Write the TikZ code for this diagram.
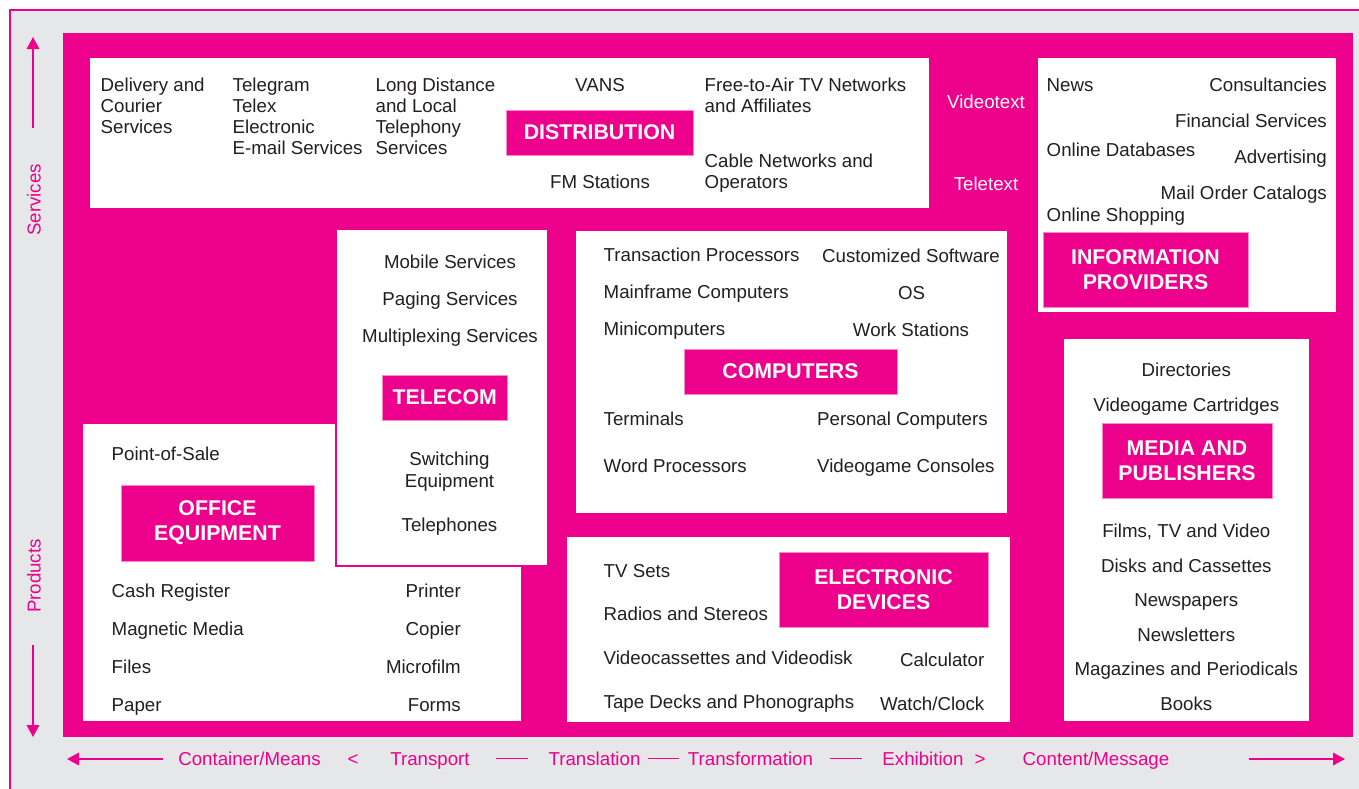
\documentclass[tikz,border=0pt]{standalone}
\usepackage{fontspec}
\setmainfont{Liberation Sans}
\usetikzlibrary{arrows.meta}
\definecolor{mag}{HTML}{EC008C}
\definecolor{bgg}{HTML}{E6E7E8}
\definecolor{ink}{HTML}{231F20}
\begin{document}
\begin{tikzpicture}[x=1pt,y=-1pt,
  wbox/.style={draw=mag, line width=1.6pt, fill=white},
  lab/.style={fill=mag, draw=mag!45!white, line width=0.7pt, text=white,
    font=\fontsize{21.3}{25}\selectfont\bfseries, align=center, inner sep=0pt},
  txt/.style={text=ink, font=\fontsize{18.7}{21}\selectfont, inner sep=0pt, anchor=base west},
  txc/.style={txt, anchor=base},
  txr/.style={txt, anchor=base east},
  wtx/.style={txc, text=white},
  axt/.style={text=mag, font=\fontsize{18.7}{21}\selectfont, inner sep=0pt, anchor=base},
  axl/.style={draw=mag, line width=1.6pt},
  arr/.style={axl, -{Triangle[length=12pt,width=12.5pt]}}
]
\path[use as bounding box] (0,0) rectangle (1359,788);
\fill[white] (-5,-5) rectangle (1370,800);
\fill[bgg] (10,10) rectangle (1370,800);
\draw[mag, line width=2.5pt] (10,800) -- (10,10) -- (1370,10);
\fill[mag] (63,33) rectangle (1353,737);

% white boxes
\draw[wbox] (89,57) rectangle (930,209);
\draw[wbox] (1037,57) rectangle (1337,313);
\draw[wbox] (1063,338) rectangle (1310,722);
\draw[wbox] (575,230) rectangle (1008,514);
\draw[wbox] (566,536) rectangle (1011,723);
\draw[wbox] (82,423) rectangle (522,722);
\draw[wbox] (336,229) rectangle (548,566);

% labels
\node[lab, minimum width=187pt, minimum height=45pt] (distL) at (599.5,132.5) {DISTRIBUTION};
\node[lab, minimum width=205pt, minimum height=75pt] (infoL) at (1145.5,269.5) {INFORMATION\\PROVIDERS};
\node[lab, minimum width=124.5pt, minimum height=45pt] (telL) at (444.75,397.5) {TELECOM};
\node[lab, minimum width=213pt, minimum height=45pt] (compL) at (790.5,371.5) {COMPUTERS};
\node[lab, minimum width=193pt, minimum height=76pt] (offL) at (217.5,523) {OFFICE\\EQUIPMENT};
\node[lab, minimum width=209pt, minimum height=75pt] (elecL) at (883.5,589.5) {ELECTRONIC\\DEVICES};
\node[lab, minimum width=170pt, minimum height=75pt] (medL) at (1187,460.5) {MEDIA AND\\PUBLISHERS};

% distribution
\foreach \t [count=\i] in {{Delivery and},{Courier},{Services}}
  \node[txt] (dc\i) at (100.5,{91.7+21*(\i-1)}) {\t};
\foreach \t [count=\i] in {{Telegram},{Telex},{Electronic},{E-mail Services}}
  \node[txt] (tg\i) at (232.5,{91.7+21*(\i-1)}) {\t};
\foreach \t [count=\i] in {{Long Distance},{and Local},{Telephony},{Services}}
  \node[txt] (ld\i) at (375.5,{91.7+21*(\i-1)}) {\t};
\node[txc] (vans) at (600,91.7) {VANS};
\node[txc] (fm) at (600,188.7) {FM Stations};
\node[txt] (fa1) at (704.5,91.7) {Free-to-Air TV Networks};
\node[txt] (fa2) at (704.5,112.7) {and Affiliates};
\node[txt] (cb1) at (704.5,167.7) {Cable Networks and};
\node[txt] (cb2) at (704.5,188.7) {Operators};
\node[wtx] (vt) at (986,108.3) {Videotext};
\node[wtx] (tt) at (986,190) {Teletext};

% information providers
\node[txt] (news) at (1046.5,91.7) {News};
\node[txr] (cons) at (1327,91.7) {Consultancies};
\node[txr] (fin) at (1327,127.7) {Financial Services};
\node[txt] (odb) at (1046.5,156.7) {Online Databases};
\node[txr] (adv) at (1327,163.7) {Advertising};
\node[txr] (moc) at (1327,199.7) {Mail Order Catalogs};
\node[txt] (osh) at (1046.5,221.7) {Online Shopping};

% telecom
\node[txc] (mob) at (450,268.7) {Mobile Services};
\node[txc] (pag) at (450,305.7) {Paging Services};
\node[txc] (mux) at (450,342.7) {Multiplexing Services};
\node[txc] (sw1) at (449.5,465.7) {Switching};
\node[txc] (sw2) at (449.5,487.5) {Equipment};
\node[txc] (tel) at (449.5,531.7) {Telephones};

% computers
\node[txt] (tp) at (603.5,261.7) {Transaction Processors};
\node[txc] (cs) at (911,262.3) {Customized Software};
\node[txt] (mf) at (603.5,298.5) {Mainframe Computers};
\node[txc] (os) at (911.5,299) {OS};
\node[txt] (mc) at (603.5,335.7) {Minicomputers};
\node[txc] (ws) at (911,336) {Work Stations};
\node[txt] (term) at (603.5,425.7) {Terminals};
\node[txt] (pc) at (817,425.7) {Personal Computers};
\node[txt] (wp) at (603.5,472.7) {Word Processors};
\node[txt] (vgc) at (817,472.7) {Videogame Consoles};

% office equipment
\node[txt] (pos) at (111.5,460) {Point-of-Sale};
\foreach \t [count=\i] in {{Cash Register},{Magnetic Media},{Files},{Paper}}
  \node[txt] (ol\i) at (111.5,{597.7+38*(\i-1)}) {\t};
\foreach \t [count=\i] in {{Printer},{Copier},{Microfilm},{Forms}}
  \node[txr] (or\i) at (461,{597.7+38*(\i-1)}) {\t};

% electronic devices
\node[txt] (tv) at (603.5,577.3) {TV Sets};
\node[txt] (rad) at (603.5,620.7) {Radios and Stereos};
\node[txt] (vcd) at (603.5,664.3) {Videocassettes and Videodisk};
\node[txt] (tdp) at (603.5,708.3) {Tape Decks and Phonographs};
\node[txr] (calc) at (984.5,666.7) {Calculator};
\node[txr] (wc) at (984.5,710) {Watch/Clock};

% media and publishers
\foreach \t/\yy [count=\i] in {{Directories}/376.7,{Videogame Cartridges}/411.7,{Films, TV and Video}/537.7,{Disks and Cassettes}/572.7,{Newspapers}/606.7,{Newsletters}/641.7,{Magazines and Periodicals}/675.7,{Books}/710.3}
  \node[txc] (mp\i) at (1186.3,\yy) {\t};

% vertical axis
\coordinate (upA) at (33,128);
\coordinate (upB) at (33,37);
\coordinate (dnA) at (33,645);
\coordinate (dnB) at (33,737);
\draw[arr] (upA) -- (upB);
\draw[arr] (dnA) -- (dnB);
\node[text=mag, font=\fontsize{18.7}{21}\selectfont, inner sep=0pt, rotate=90] (serv) at (34,200) {Services};
\node[text=mag, font=\fontsize{18.7}{21}\selectfont, inner sep=0pt, rotate=90] (prod) at (34,576) {Products};

% horizontal axis
\coordinate (lA) at (163,759);
\coordinate (lB) at (67,759);
\coordinate (rA) at (1249,759);
\coordinate (rB) at (1345,759);
\draw[arr] (lA) -- (lB);
\draw[arr] (rA) -- (rB);
\node[axt] (cm) at (249.5,765.3) {Container/Means};
\node[axt] (lt) at (353,765.3) {<};
\node[axt] (trp) at (430,765.3) {Transport};
\node[axt] (trl) at (594.5,765.3) {Translation};
\node[axt] (trf) at (750.5,765.3) {Transformation};
\node[axt] (exh) at (923,765.3) {Exhibition};
\node[axt] (gt) at (980,765.3) {>};
\node[axt] (cmsg) at (1096,765.3) {Content/Message};
\coordinate (s1a) at (496,758.5); \coordinate (s1b) at (528,758.5);
\coordinate (s2a) at (648,758.5); \coordinate (s2b) at (679,758.5);
\coordinate (s3a) at (830,758.5); \coordinate (s3b) at (862,758.5);
\draw[axl] (s1a) -- (s1b);
\draw[axl] (s2a) -- (s2b);
\draw[axl] (s3a) -- (s3b);
\end{tikzpicture}
\end{document}
